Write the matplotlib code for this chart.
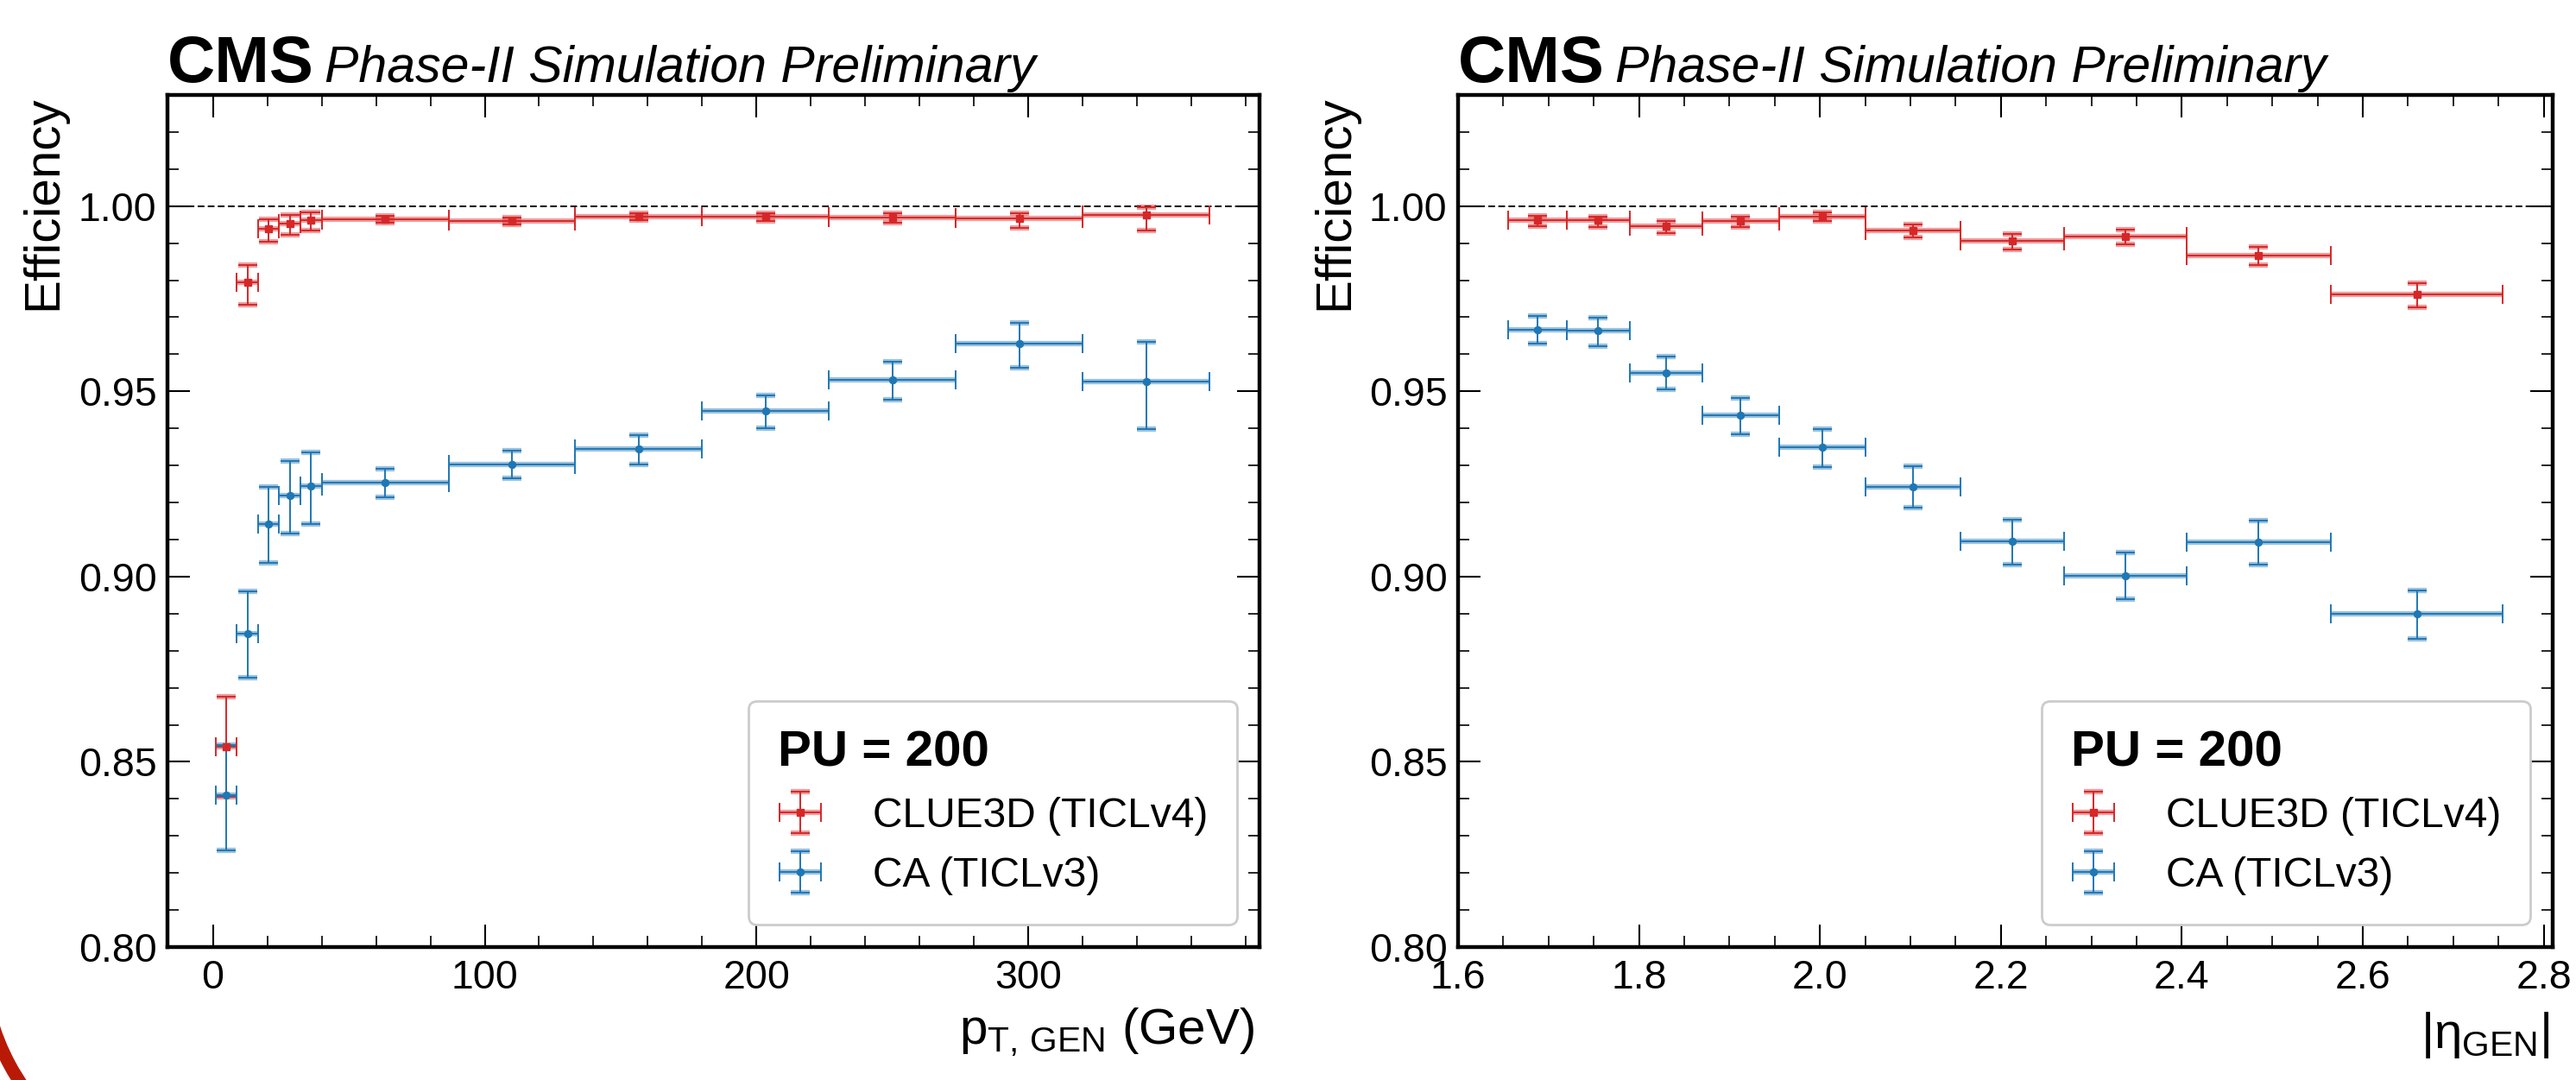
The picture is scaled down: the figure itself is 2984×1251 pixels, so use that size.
import numpy as np
import matplotlib
matplotlib.use("Agg")
import matplotlib.pyplot as plt
from matplotlib.ticker import MultipleLocator, FormatStrFormatter
from matplotlib.legend_handler import HandlerTuple
from matplotlib.patches import Arc
from matplotlib.transforms import IdentityTransform

# %%
# pT binning (GeV) and efficiencies
PT_EDGES = [1.0, 8.8, 16.6, 24.4, 32.2, 40.0, 86.7, 133.3, 180.0, 226.7, 273.3, 320.0, 366.7]
PT_CLUE3D = [0.8541, 0.9794, 0.9939, 0.9953, 0.9963, 0.9965, 0.9960, 0.9971, 0.9971, 0.9970, 0.9967, 0.9977]
PT_CLUE3D_UP = [0.0135, 0.0048, 0.0025, 0.0022, 0.0019, 0.0009, 0.0009, 0.0009, 0.0009, 0.0010, 0.0014, 0.0019]
PT_CLUE3D_DN = [0.0135, 0.0060, 0.0035, 0.0031, 0.0029, 0.0009, 0.0009, 0.0010, 0.0012, 0.0014, 0.0025, 0.0042]
PT_CA = [0.8409, 0.8847, 0.9143, 0.9218, 0.9244, 0.9253, 0.9302, 0.9344, 0.9446, 0.9530, 0.9628, 0.9526]
PT_CA_UP = [0.0136, 0.0114, 0.0098, 0.0093, 0.0092, 0.0038, 0.0037, 0.0039, 0.0044, 0.0049, 0.0057, 0.0107]
PT_CA_DN = [0.0147, 0.0121, 0.0106, 0.0101, 0.0101, 0.0040, 0.0037, 0.0041, 0.0045, 0.0052, 0.0064, 0.0128]

# |eta| binning and efficiencies
ETA_EDGES = [1.655, 1.72, 1.79, 1.87, 1.955, 2.05, 2.155, 2.27, 2.405, 2.565, 2.755]
ETA_CLUE3D = [0.9961, 0.9961, 0.9945, 0.9959, 0.9971, 0.9934, 0.9906, 0.9918, 0.9867, 0.9762]
ETA_CLUE3D_UP = [0.0012, 0.0011, 0.0014, 0.0012, 0.0011, 0.0017, 0.0019, 0.0018, 0.0023, 0.0030]
ETA_CLUE3D_DN = [0.0015, 0.0017, 0.0018, 0.0016, 0.0012, 0.0018, 0.0022, 0.0020, 0.0027, 0.0035]
ETA_CA = [0.9667, 0.9663, 0.9550, 0.9436, 0.9349, 0.9243, 0.9095, 0.9002, 0.9094, 0.8899]
ETA_CA_UP = [0.0037, 0.0036, 0.0043, 0.0047, 0.0050, 0.0055, 0.0059, 0.0062, 0.0058, 0.0064]
ETA_CA_DN = [0.0039, 0.0041, 0.0045, 0.0051, 0.0054, 0.0057, 0.0062, 0.0063, 0.0062, 0.0068]

LABELS = ["CLUE3D (TICLv4)", "CA (TICLv3)"]
COLORS = ["#d62728", "#1f77b4"]
MARKERS = ["s", "o"]

plt.rcParams["font.family"] = ["Liberation Sans", "DejaVu Sans"]
plt.rcParams["mathtext.fontset"] = "custom"
plt.rcParams["mathtext.rm"] = "Liberation Sans"
plt.rcParams["mathtext.it"] = "Liberation Sans"
plt.rcParams["mathtext.bf"] = "Liberation Sans:bold"

W, H = 2984, 1251
fig = plt.figure(figsize=(W / 100, H / 100), dpi=100)
ax_pt = fig.add_axes([194 / W, 1 - 1097 / H, (1459 - 194) / W, (1097 - 110) / H])
ax_eta = fig.add_axes([1689 / W, 1 - 1097 / H, (2957 - 1689) / W, (1097 - 110) / H])


def draw_eff(ax, edges, eff, up, dn, color, marker):
    edges = np.array(edges)
    x = 0.5 * (edges[1:] + edges[:-1])
    xw = 0.5 * (edges[1:] - edges[:-1])
    main = ax.errorbar(x, eff, xerr=xw, yerr=[dn, up], fmt=marker, color=color, ms=5.8,
                       elinewidth=1.4, capsize=8, capthick=1.4)
    ovx = ax.errorbar(x, eff, xerr=xw, fmt="none", ecolor=color, elinewidth=4.5,
                      alpha=0.45, capsize=0)
    ovy = ax.errorbar(x, eff, yerr=[dn, up], fmt="none", ecolor=color, elinewidth=0,
                      alpha=0.45, capsize=8, capthick=4.5)
    return (main, ovx, ovy)


def style_axes(ax):
    for s in ax.spines.values():
        s.set_linewidth(3.2)
    ax.tick_params(which="both", direction="in", top=True, right=True, labelsize=33.5)
    ax.tick_params(which="major", length=18.5, width=1.5)
    ax.tick_params(which="minor", length=9.5, width=1.2)
    ax.tick_params(axis="x", pad=10)
    ax.tick_params(axis="y", pad=9)
    ax.set_ylim(0.80, 1.03)
    ax.yaxis.set_major_locator(MultipleLocator(0.05))
    ax.yaxis.set_minor_locator(MultipleLocator(0.01))
    ax.yaxis.set_major_formatter(FormatStrFormatter("%.2f"))
    ax.axhline(1.0, color="black", lw=1.4, ls=(0, (4, 2)), zorder=1)
    ax.set_ylabel("Efficiency", fontsize=42, loc="top")
    ax.text(0.0, 1.015, "CMS", transform=ax.transAxes, fontsize=55, fontweight="bold",
            va="baseline", ha="left")
    ax.text(0.1435, 1.015, "Phase-II Simulation Preliminary", transform=ax.transAxes,
            fontsize=42.5, style="italic", va="baseline", ha="left")


panels = [
    (ax_pt, PT_EDGES, [(PT_CLUE3D, PT_CLUE3D_UP, PT_CLUE3D_DN), (PT_CA, PT_CA_UP, PT_CA_DN)]),
    (ax_eta, ETA_EDGES, [(ETA_CLUE3D, ETA_CLUE3D_UP, ETA_CLUE3D_DN), (ETA_CA, ETA_CA_UP, ETA_CA_DN)]),
]

for ax, edges, series in panels:
    style_axes(ax)
    handles = []
    for (eff, up, dn), color, marker in zip(series, COLORS, MARKERS):
        handles.append(draw_eff(ax, edges, eff, up, dn, color, marker))
    leg = ax.legend(handles, LABELS, handler_map={tuple: HandlerTuple(ndivide=1)},
                    loc="lower right", fontsize=34.5, title="PU = 200",
                    title_fontproperties={"weight": "bold", "size": 42},
                    alignment="left", borderaxespad=0.55, borderpad=0.7,
                    handlelength=1.1, handletextpad=1.2, labelspacing=0.5,
                    frameon=True, fancybox=True, edgecolor="0.8", framealpha=1.0)
    leg.get_frame().set_linewidth(2)

# pT panel
ax_pt.set_xlim(-16.7, 385)
ax_pt.xaxis.set_major_locator(MultipleLocator(100))
ax_pt.xaxis.set_minor_locator(MultipleLocator(20))
ax_pt.set_xlabel(r"$\mathrm{p_{T,\,GEN}}$ (GeV)", fontsize=42, loc="right")
ax_pt.xaxis.set_label_coords(0.995, -0.069)
ax_pt.yaxis.set_label_coords(-0.0925, 1.0)

# eta panel
ax_eta.set_xlim(1.6, 2.81)
ax_eta.xaxis.set_major_locator(MultipleLocator(0.2))
ax_eta.xaxis.set_minor_locator(MultipleLocator(0.05))
ax_eta.xaxis.set_major_formatter(FormatStrFormatter("%.1f"))
ax_eta.set_xlabel(r"$|\eta_{\mathrm{GEN}}|$", fontsize=42, loc="right")
ax_eta.xaxis.set_label_coords(0.997, -0.074)
ax_eta.yaxis.set_label_coords(-0.0915, 1.0)

# red slide decoration in the lower-left corner
fig.add_artist(Arc((240, 141), 520, 520, theta1=195, theta2=222, lw=10.8,
                   color="#b81a06", transform=IdentityTransform(), clip_on=False))

fig.savefig("out.png", dpi=100)
